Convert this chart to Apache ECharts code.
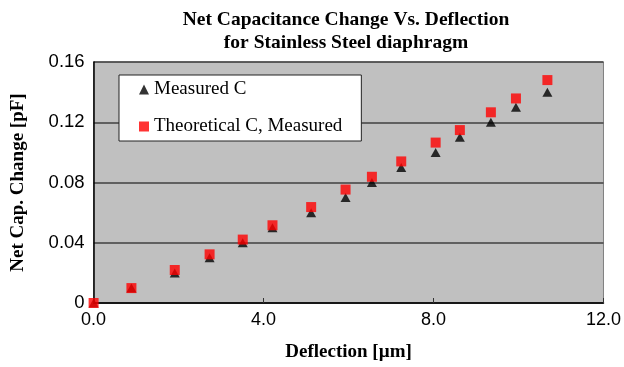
<!DOCTYPE html>
<html><head><meta charset="utf-8">
<script src="https://cdn.jsdelivr.net/npm/echarts@6/dist/echarts.min.js"></script>
<style>html,body{margin:0;padding:0;background:#fff}#c{width:624px;height:367px}</style>
</head><body><div id="c"></div>
<script>
var deflection = [0, 0.89, 1.91, 2.73, 3.51, 4.21, 5.12, 5.93, 6.55, 7.24, 8.05, 8.62, 9.35, 9.94, 10.68];
var measuredC = [0, 0.01, 0.02, 0.03, 0.04, 0.05, 0.06, 0.07, 0.08, 0.09, 0.10, 0.11, 0.12, 0.13, 0.14];
var theoreticalC = [0, 0.0099, 0.0219, 0.0323, 0.0421, 0.0516, 0.0637, 0.0753, 0.0838, 0.094, 0.1065, 0.1148, 0.1266, 0.1358, 0.148];
var xTicks = [0, 4, 8, 12];
var yTicks = [0, 0.04, 0.08, 0.12, 0.16];

var serif = '"Liberation Serif","Times New Roman",serif';
var sans = '"Liberation Sans",Arial,sans-serif';
function pairs(xs, ys){ return xs.map(function(x,i){ return [x, ys[i]]; }); }

var chart = echarts.init(document.getElementById('c'));
chart.setOption({
  animation: false,
  title: {
    text: 'Net Capacitance Change Vs. Deflection\nfor Stainless Steel diaphragm',
    left: 341, top: 3, textAlign: 'center',
    textStyle: {fontFamily: serif, fontWeight: 'bold', fontSize: 19.5, lineHeight: 23, color: '#000'}
  },
  grid: {left: 93.6, right: 18, top: 62, bottom: 62, show: true, backgroundColor: '#c0c0c0', borderColor: '#808080', borderWidth: 1},
  legend: {
    orient: 'vertical', left: 119, top: 75,
    backgroundColor: '#fff', borderColor: '#222', borderWidth: 1,
    padding: [5, 19, 5, 20], itemGap: 18, itemWidth: 10, itemHeight: 10,
    textStyle: {fontFamily: serif, fontSize: 19, color: '#000'},
    data: ['Measured C', 'Theoretical C, Measured']
  },
  xAxis: {
    type: 'value', min: xTicks[0], max: xTicks[xTicks.length-1], interval: 4,
    name: 'Deflection [µm]', nameLocation: 'middle', nameGap: 40,
    nameTextStyle: {fontFamily: serif, fontWeight: 'bold', fontSize: 19, color: '#000'},
    axisLine: {lineStyle: {color: '#000', width: 1.5}},
    axisTick: {inside: true, length: 5, lineStyle: {color: '#333'}},
    axisLabel: {fontFamily: sans, fontSize: 18, color: '#000', margin: 8, formatter: function(v){ return v.toFixed(1); }},
    splitLine: {show: false}
  },
  yAxis: {
    type: 'value', min: yTicks[0], max: yTicks[yTicks.length-1], interval: 0.04,
    name: 'Net Cap. Change [pF]', nameLocation: 'middle', nameGap: 66,
    nameTextStyle: {fontFamily: serif, fontWeight: 'bold', fontSize: 19, color: '#000'},
    axisLine: {show: true, lineStyle: {color: '#000', width: 1.5}},
    axisTick: {show: false},
    axisLabel: {fontFamily: sans, fontSize: 18.5, color: '#000', margin: 9, formatter: function(v){ return v === 0 ? '0' : v.toFixed(2); }},
    splitLine: {lineStyle: {color: '#404040', width: 1.5}}
  },
  series: [
    {name: 'Measured C', type: 'scatter', symbol: 'triangle', symbolSize: [10, 9],
     itemStyle: {color: '#000'}, data: pairs(deflection, measuredC), z: 2},
    {name: 'Theoretical C, Measured', type: 'scatter', symbol: 'rect', symbolSize: 10,
     itemStyle: {color: '#ff0000'}, data: pairs(deflection, theoreticalC), z: 3}
  ]
});
</script></body></html>
